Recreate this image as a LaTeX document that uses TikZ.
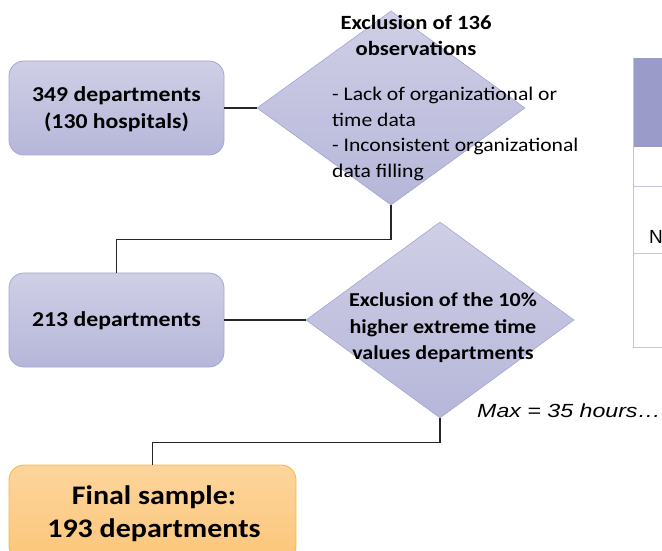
\documentclass[tikz,border=0pt]{standalone}
\usepackage{fontspec}
\setmainfont[FakeStretch=1.12]{Carlito}
\newfontfamily\arialfont[FakeStretch=1.22]{Liberation Sans}
\newfontfamily\arialplain{Liberation Sans}
\usetikzlibrary{shapes.geometric}
\definecolor{lavtop}{RGB}{207,207,230}
\definecolor{lavbot}{RGB}{182,182,218}
\definecolor{lavline}{RGB}{165,165,210}
\definecolor{ortop}{RGB}{253,213,156}
\definecolor{orbot}{RGB}{252,198,122}
\definecolor{orline}{RGB}{244,182,60}
\definecolor{tabhead}{RGB}{155,155,201}
\definecolor{tabline}{RGB}{196,196,226}
\tikzset{
  x=1pt,y=1pt,
  lavbox/.style={draw=lavline, line width=0.8pt, rounded corners=15pt, top color=lavtop, bottom color=lavbot, minimum width=215pt, minimum height=94pt, inner sep=0pt},
  finalbox/.style={draw=orline, line width=0.8pt, rounded corners=15pt, top color=ortop, bottom color=orbot, minimum width=287pt, minimum height=96pt, inner sep=0pt},
  decision/.style={diamond, draw=lavline, line width=0.6pt, top color=lavtop, bottom color=lavbot, inner sep=0pt},
  conn/.style={draw=black!85, line width=1.5pt},
  boxtext/.style={font=\bfseries\fontsize{21.2}{27.5}\selectfont, align=center},
  dtitle/.style={font=\bfseries\fontsize{20.2}{26}\selectfont, align=center},
  dbody/.style={font=\fontsize{19.3}{25.6}\selectfont, align=left, anchor=west, inner sep=0pt},
}
\begin{document}
\begin{tikzpicture}
\useasboundingbox (0,0) rectangle (662,550);
% table on right
\fill[tabhead] (633,492) rectangle (680,403);
\draw[tabline, line width=1pt] (633,492) -- (633,203);
\foreach \yy in {363,296,203} \draw[tabline, line width=1pt] (633,\yy) -- (680,\yy);
\node[font=\arialplain\fontsize{19}{22}\selectfont, anchor=west, inner sep=0pt] (tabN) at (649,313) {N};
% boxes
\node[lavbox] (b1) at (116.5,442) {};
\node[boxtext] (b1t) at (116.5,441) {349 departments\\(130 hospitals)};
\node[lavbox] (b2) at (116.5,230) {};
\node[boxtext] (b2t) at (116.5,229) {213 departments};
\node[finalbox] (b3) at (152.5,37) {};
\node[font=\bfseries\fontsize{26.8}{33}\selectfont, align=center] (b3t) at (154,36) {Final sample:\\193 departments};
% diamonds
\node[decision, minimum width=268pt, minimum height=194pt] (d1) at (391,442) {};
\node[decision, minimum width=268pt, minimum height=196pt] (d2) at (440,230) {};
\node[dtitle] (d1t) at (416,515) {Exclusion of 136\\observations};
\node[dbody] (d1b) at (332,416) {- Lack of organizational or\\time data\\- Inconsistent organizational\\data filling};
\node[font=\bfseries\fontsize{19.7}{26.5}\selectfont, align=center] (d2t) at (443,222) {Exclusion of the 10\%\\higher extreme time\\values departments};
\node[font=\arialfont\itshape\fontsize{19}{22}\selectfont, anchor=west, inner sep=0pt] (maxt) at (477,139) {Max = 35 hours\dots};
% connectors
\draw[conn] (b1.east) -- (d1.west);
\draw[conn] (b2.east) -- (d2.west);
\draw[conn] (d1.south) -- ++(0,-34) -| (b2.north);
\draw[conn] (d2.south) -- ++(0,-24) -| (b3.north);
\end{tikzpicture}
\end{document}
